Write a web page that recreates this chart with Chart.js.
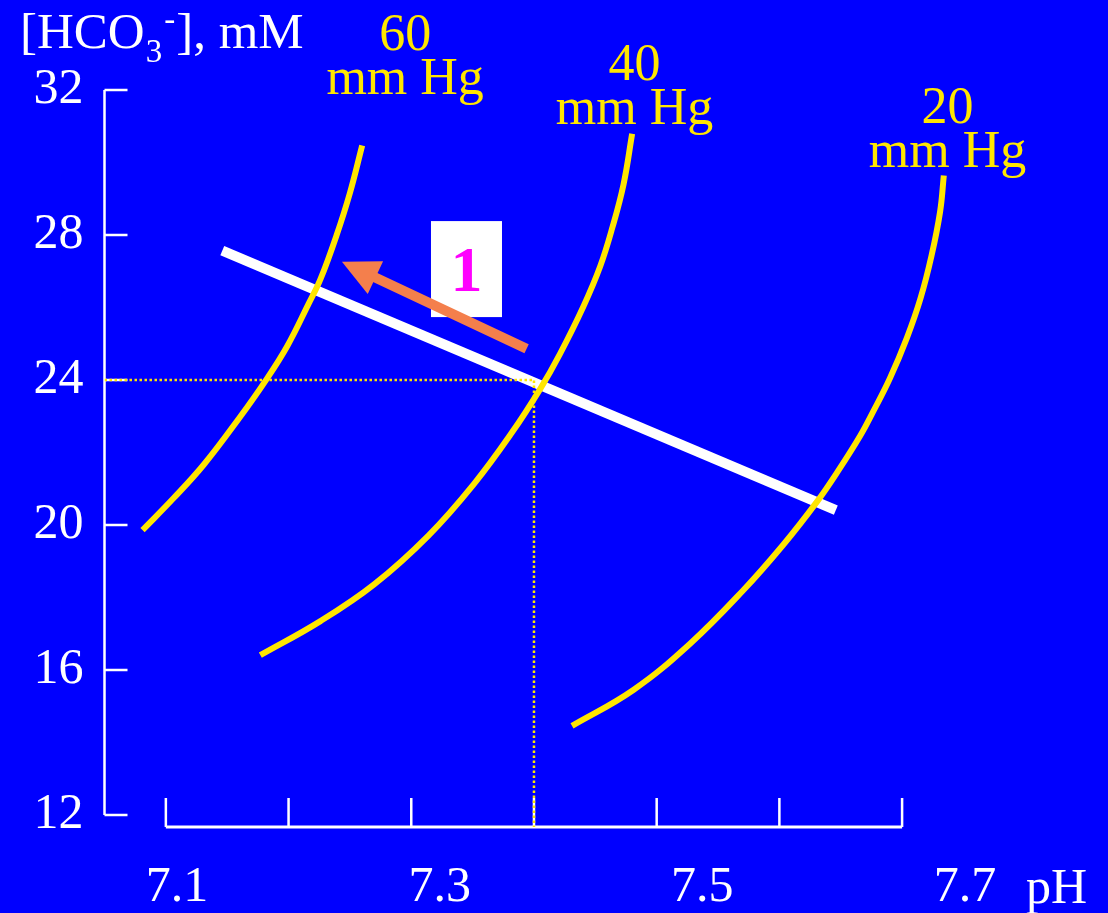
<!DOCTYPE html>
<html>
<head>
<meta charset="utf-8">
<script src="https://cdn.jsdelivr.net/npm/chart.js@4.4.1/dist/chart.umd.min.js"></script>
<style>
  html, body { margin: 0; padding: 0; background: #0000ff; }
  #wrap { width: 1108px; height: 913px; }
</style>
</head>
<body>
<div id="wrap"><canvas id="chart" width="1108" height="913"></canvas></div>
<script>
// PCO2 isopleths (pH, [HCO3-] mM)
const ph60 = [7.081, 7.106, 7.131, 7.160, 7.182, 7.199, 7.216, 7.226, 7.239, 7.250, 7.260];
const hco3_60 = [19.86, 20.73, 21.67, 22.96, 24.02, 24.94, 26.08, 26.78, 27.98, 29.16, 30.47];

const ph40 = [7.177, 7.226, 7.270, 7.314, 7.351, 7.382, 7.405, 7.421, 7.440, 7.454, 7.464, 7.473, 7.480];
const hco3_40 = [16.41, 17.35, 18.37, 19.71, 21.13, 22.55, 23.75, 24.71, 26.01, 27.14, 28.22, 29.40, 30.79];

const ph20 = [7.431, 7.481, 7.527, 7.570, 7.603, 7.631, 7.648, 7.666, 7.676, 7.690, 7.704, 7.715, 7.724, 7.731, 7.734];
const hco3_20 = [14.46, 15.45, 16.72, 18.18, 19.45, 20.66, 21.50, 22.47, 23.10, 24.04, 25.17, 26.25, 27.43, 28.65, 29.64];

// blood buffer line
const bufferPH = [7.146, 7.646];
const bufferHCO3 = [27.57, 20.41];

// step arrow (tail, tip)
const arrowPH = [7.394, 7.2435];
const arrowHCO3 = [24.86, 27.26];

// normal point
const normalPH = 7.4;
const normalHCO3 = 24;

// axes
const yTicks = [12, 16, 20, 24, 28, 32];
const xTickMarks = [7.1, 7.2, 7.3, 7.4, 7.5, 7.6, 7.7];
const xTickLabels = [7.1, 7.3, 7.5, 7.7];

// isopleth labels
const isoNames = ["60", "40", "20"];
const isoLabelPH = [7.295, 7.482, 7.737];
const isoLabelHCO3 = [33.10, 32.28, 31.09];

const stepPH = 7.345;
const stepHCO3 = 27.06;

const X_MIN = 7.05, X_MAX = 7.8;
const Y_MIN = 11.67, Y_MAX = 34;

const BLUE = "#0000ff";
const YELLOW = "#ffe600";
const WHITE = "#ffffff";
const ORANGE = "#f47f4c";
const SERIF = '"Liberation Serif", "Times New Roman", serif';

const pts = (xs, ys) => xs.map((x, i) => ({ x: x, y: ys[i] }));

const curve = (label, xs, ys) => ({
  label: label,
  data: pts(xs, ys),
  borderColor: YELLOW,
  borderWidth: 6,
  pointRadius: 0,
  tension: 0.4,
  order: 1,
});

const frame = {
  id: "frame",
  beforeDraw(chart) {
    const c = chart.ctx;
    c.save();
    c.fillStyle = BLUE;
    c.fillRect(0, 0, chart.width, chart.height);
    c.restore();
  },
  beforeDatasetsDraw(chart) {
    const c = chart.ctx;
    const xs = chart.scales.x, ys = chart.scales.y;
    c.save();
    c.strokeStyle = WHITE;
    c.lineCap = "butt";
    // y axis
    const ax = xs.left;
    c.lineWidth = 2.5;
    c.beginPath();
    c.moveTo(ax, ys.getPixelForValue(yTicks[yTicks.length - 1]));
    c.lineTo(ax, ys.getPixelForValue(yTicks[0]));
    yTicks.forEach(v => {
      const p = ys.getPixelForValue(v);
      c.moveTo(ax, p);
      c.lineTo(ax + 23, p);
    });
    c.stroke();
    // x axis
    const ay = ys.bottom;
    c.lineWidth = 3;
    c.beginPath();
    c.moveTo(xs.getPixelForValue(xTickMarks[0]), ay);
    c.lineTo(xs.getPixelForValue(xTickMarks[xTickMarks.length - 1]), ay);
    c.stroke();
    c.lineWidth = 2.5;
    c.beginPath();
    xTickMarks.forEach(v => {
      const p = xs.getPixelForValue(v);
      c.moveTo(p, ay);
      c.lineTo(p, ay - 29);
    });
    c.stroke();
    c.restore();
  },
  afterDatasetsDraw(chart) {
    const c = chart.ctx;
    const xs = chart.scales.x, ys = chart.scales.y;
    c.save();
    // step box
    const bx = xs.getPixelForValue(stepPH), by = ys.getPixelForValue(stepHCO3);
    c.fillStyle = WHITE;
    c.fillRect(bx - 35.5, by - 48, 71, 96);
    c.fillStyle = "#ff00ff";
    c.font = "bold 64px " + SERIF;
    c.textAlign = "center";
    c.textBaseline = "alphabetic";
    c.fillText("1", bx, by + 22);

    // arrow
    const x0 = xs.getPixelForValue(arrowPH[0]), y0 = ys.getPixelForValue(arrowHCO3[0]);
    const x1 = xs.getPixelForValue(arrowPH[1]), y1 = ys.getPixelForValue(arrowHCO3[1]);
    const len = Math.hypot(x1 - x0, y1 - y0);
    const ux = (x1 - x0) / len, uy = (y1 - y0) / len;
    const head = 37, half = 18;
    const hx = x1 - ux * head, hy = y1 - uy * head;
    c.strokeStyle = ORANGE;
    c.lineWidth = 10;
    c.beginPath();
    c.moveTo(x0, y0);
    c.lineTo(hx + ux * 2, hy + uy * 2);
    c.stroke();
    c.fillStyle = ORANGE;
    c.beginPath();
    c.moveTo(x1, y1);
    c.lineTo(hx - uy * half, hy + ux * half);
    c.lineTo(hx + uy * half, hy - ux * half);
    c.closePath();
    c.fill();
    c.restore();
  },
  afterDraw(chart) {
    const c = chart.ctx;
    const xs = chart.scales.x, ys = chart.scales.y;
    c.save();
    c.textBaseline = "alphabetic";

    // y title [HCO3-], mM
    c.fillStyle = WHITE;
    c.textAlign = "left";
    let tx = 20;
    c.font = "51px " + SERIF;
    c.fillText("[HCO", tx, 48);
    tx += c.measureText("[HCO").width + 1;
    c.font = "33px " + SERIF;
    c.fillText("3", tx, 62);
    tx += c.measureText("3").width + 2;
    c.fillText("-", tx, 30);
    tx += c.measureText("-").width + 1;
    c.font = "51px " + SERIF;
    c.fillText("], mM", tx, 48);

    // x title
    c.font = "50px " + SERIF;
    c.fillText("pH", 1026, 903);

    // isopleth labels
    c.fillStyle = YELLOW;
    c.textAlign = "center";
    c.font = "52px " + SERIF;
    isoNames.forEach((name, i) => {
      const px = xs.getPixelForValue(isoLabelPH[i]);
      const py = ys.getPixelForValue(isoLabelHCO3[i]);
      c.fillText(name, px, py);
      c.fillText("mm Hg", px, py + 44);
    });
    c.restore();
  }
};

new Chart(document.getElementById("chart"), {
  type: "line",
  data: {
    datasets: [
      {
        label: "normal",
        data: [
          { x: X_MIN, y: normalHCO3 },
          { x: normalPH, y: normalHCO3 },
          { x: normalPH, y: Y_MIN },
        ],
        borderColor: YELLOW,
        borderWidth: 2.5,
        borderDash: [2.5, 2.5],
        pointRadius: 0,
        order: 0,
      },
      curve("60 mm Hg", ph60, hco3_60),
      curve("40 mm Hg", ph40, hco3_40),
      curve("20 mm Hg", ph20, hco3_20),
      {
        label: "buffer line",
        data: pts(bufferPH, bufferHCO3),
        borderColor: WHITE,
        borderWidth: 10,
        pointRadius: 0,
        order: 2,
      },
    ],
  },
  options: {
    responsive: false,
    animation: false,
    events: [],
    devicePixelRatio: 1,
    layout: { padding: { top: 17.5, right: 83.2, left: 0, bottom: 0 } },
    plugins: { legend: { display: false }, tooltip: { enabled: false } },
    scales: {
      x: { type: "linear", display: false, min: X_MIN, max: X_MAX },
      xLab: {
        type: "linear",
        axis: "x",
        position: "bottom",
        min: 7.0448,
        max: 7.7455,
        grid: { display: false, drawTicks: false },
        border: { display: false },
        afterBuildTicks: s => { s.ticks = xTickLabels.map(v => ({ value: v })); },
        afterFit: s => { s.height = 86; s.paddingLeft = 0; s.paddingRight = 0; },
        ticks: {
          autoSkip: false,
          maxRotation: 0,
          padding: 31,
          color: WHITE,
          font: { family: SERIF, size: 50 },
          callback: v => Number(v).toFixed(1),
        },
      },
      y: {
        type: "linear",
        min: Y_MIN,
        max: Y_MAX,
        grid: { display: false, drawTicks: false },
        border: { display: false },
        afterBuildTicks: s => { s.ticks = yTicks.map(v => ({ value: v })); },
        afterFit: s => { s.width = 104.5; s.paddingTop = 0; s.paddingBottom = 0; },
        ticks: {
          padding: 21,
          color: WHITE,
          font: { family: SERIF, size: 50 },
          callback: v => String(v),
        },
      },
    },
  },
  plugins: [frame],
});
</script>
</body>
</html>
